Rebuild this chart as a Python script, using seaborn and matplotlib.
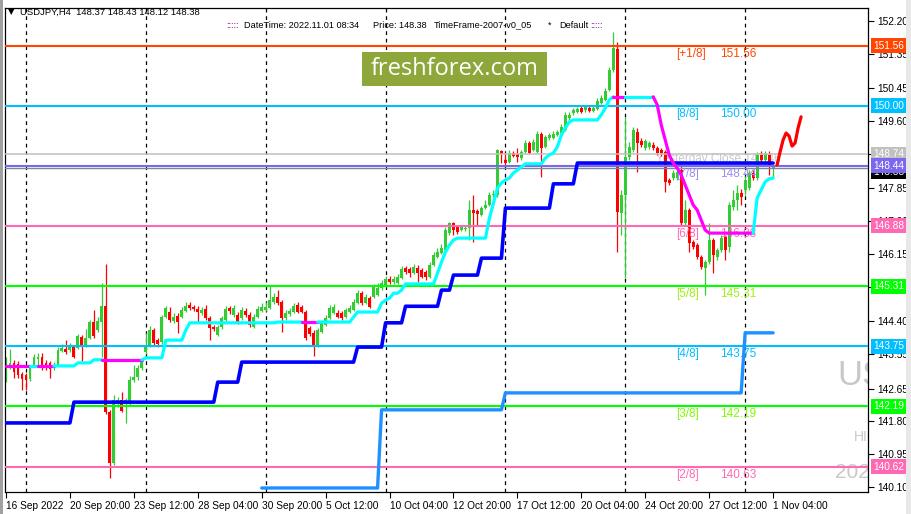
import numpy as np
import pandas as pd
import matplotlib
matplotlib.use("Agg")
import matplotlib.pyplot as plt
import matplotlib.transforms as mtransforms
from matplotlib.patches import Rectangle
import seaborn as sns

# ---------------- data ----------------
x_tick_bars = [0, 16, 32, 48, 64, 80, 96, 112, 128, 144, 160, 176, 192]
x_tick_labels = ["16 Sep 2022", "20 Sep 20:00", "23 Sep 12:00", "28 Sep 04:00", "30 Sep 20:00",
                 "5 Oct 12:00", "10 Oct 04:00", "12 Oct 20:00", "17 Oct 12:00", "20 Oct 04:00",
                 "24 Oct 20:00", "27 Oct 12:00", "1 Nov 04:00"]
y_ticks = [152.20, 151.35, 150.45, 149.60, 148.75, 147.85, 147.00, 146.15, 145.30,
           144.40, 143.55, 142.65, 141.80, 140.95, 140.10]
y_tick_labels = ["152.20", "151.35", "150.45", "149.60", "", "147.85", "147.00", "146.15", "",
                 "144.40", "143.55", "142.65", "141.80", "140.95", "140.10"]
week_separators = [5, 35, 65, 95, 125, 155, 185]

opens = [143.01, 143.21, 143.32, 143.29, 143.03, 143.01, 142.90, 143.27, 143.42, 143.47,
         143.32, 143.32, 143.19, 143.27, 143.63, 143.68, 143.66, 143.73, 143.71, 143.99,
         143.79, 143.97, 144.38, 144.17, 144.38, 144.80, 142.04, 140.72, 142.28, 142.36,
         142.28, 142.30, 142.88, 142.95, 143.19, 143.60, 143.79, 144.17, 143.91, 143.86,
         144.51, 144.64, 144.41, 144.54, 144.51, 144.67, 144.82, 144.77, 144.72, 144.62,
         144.72, 144.49, 144.25, 144.04, 144.25, 144.43, 144.74, 144.56, 144.56, 144.49,
         144.67, 144.56, 144.25, 144.51, 144.67, 144.69, 144.74, 144.90, 145.03, 144.90,
         144.49, 144.59, 144.64, 144.82, 144.77, 144.64, 144.23, 144.10, 143.79, 144.12,
         144.30, 144.49, 144.62, 144.62, 144.62, 144.51, 144.64, 144.69, 144.87, 145.13,
         144.87, 145.00, 145.03, 145.08, 145.26, 145.34, 145.50, 145.42, 145.39, 145.52,
         145.78, 145.76, 145.65, 145.78, 145.73, 145.68, 145.55, 145.86, 146.07, 146.17,
         146.25, 146.69, 146.95, 146.85, 146.77, 146.80, 146.82, 147.29, 147.26, 147.16,
         147.34, 147.42, 147.68, 147.68, 148.82, 148.59, 148.54, 148.77, 148.75, 148.64,
         148.80, 149.03, 148.85, 148.80, 149.26, 148.93, 149.16, 149.16, 149.24, 149.29,
         149.37, 149.68, 149.81, 149.84, 149.94, 149.89, 149.94, 149.86, 149.91, 150.07,
         150.15, 150.41, 150.93, 151.47, 147.21, 147.68, 148.67, 148.85, 149.32, 149.08,
         148.90, 148.93, 148.98, 148.90, 148.85, 148.80, 148.07, 148.12, 148.12, 148.33,
         146.95, 147.29, 146.46, 146.38, 146.07, 145.78, 145.94, 146.51, 146.07, 146.25,
         146.59, 146.33, 147.37, 147.55, 147.73, 147.81, 147.86, 148.25, 148.12, 148.72,
         148.59, 148.72, 148.37]
highs = [143.47, 143.68, 143.40, 143.37, 143.08, 143.06, 143.27, 143.55, 143.58, 143.58,
         143.40, 143.37, 143.34, 143.73, 143.81, 143.91, 143.84, 143.79, 144.07, 144.04,
         144.20, 144.43, 144.69, 144.51, 145.39, 145.89, 142.10, 142.49, 142.43, 142.56,
         142.41, 142.98, 143.27, 143.27, 143.40, 144.10, 144.28, 144.23, 143.97, 144.56,
         144.80, 144.77, 144.62, 144.62, 144.77, 144.90, 144.90, 144.82, 144.80, 144.77,
         144.82, 144.54, 144.30, 144.30, 144.54, 144.80, 144.80, 144.82, 144.64, 144.77,
         144.74, 144.64, 144.59, 144.80, 144.87, 144.90, 145.32, 145.13, 145.21, 144.95,
         144.69, 144.74, 144.87, 144.90, 144.82, 144.69, 144.28, 144.17, 144.23, 144.43,
         144.56, 144.82, 144.85, 144.69, 144.67, 144.74, 144.82, 144.98, 145.21, 145.19,
         145.11, 145.06, 145.37, 145.39, 145.47, 145.58, 145.58, 145.58, 145.63, 145.84,
         145.84, 145.81, 145.89, 145.86, 145.78, 145.73, 145.94, 146.20, 146.30, 146.41,
         146.85, 146.98, 146.98, 146.90, 146.90, 146.90, 147.55, 147.68, 147.32, 147.39,
         147.55, 147.76, 147.81, 148.87, 148.85, 148.80, 148.85, 148.82, 148.90, 148.85,
         149.11, 149.08, 149.13, 149.34, 149.32, 149.24, 149.29, 149.34, 149.37, 149.52,
         149.84, 149.84, 149.94, 149.97, 149.99, 150.02, 149.99, 149.99, 150.20, 150.28,
         150.46, 151.00, 151.91, 151.65, 147.81, 149.71, 149.06, 149.45, 149.42, 149.16,
         149.13, 149.08, 149.06, 148.95, 148.90, 148.85, 148.12, 148.33, 148.33, 148.49,
         147.55, 147.34, 146.51, 146.43, 146.12, 145.99, 146.95, 146.56, 146.30, 146.64,
         146.64, 147.50, 147.81, 147.94, 147.84, 148.17, 148.33, 148.33, 148.80, 148.82,
         148.82, 148.82, 148.43]
lows = [142.82, 143.16, 142.93, 142.93, 142.62, 142.62, 142.85, 143.21, 143.21, 143.14,
        143.14, 142.93, 143.14, 143.24, 143.60, 143.55, 143.60, 143.45, 143.68, 143.37,
        143.73, 143.94, 143.97, 144.12, 143.47, 141.99, 140.33, 140.67, 142.17, 142.04,
        141.76, 142.23, 142.82, 142.88, 143.14, 143.55, 143.73, 143.79, 143.73, 143.81,
        144.49, 144.38, 144.36, 144.10, 144.49, 144.64, 144.69, 144.67, 144.38, 144.56,
        144.43, 143.91, 144.15, 144.02, 144.20, 144.41, 144.59, 144.51, 144.33, 144.43,
        144.51, 144.25, 144.23, 144.49, 144.64, 144.67, 144.72, 144.85, 144.82, 144.12,
        144.43, 144.54, 144.62, 144.62, 144.62, 143.91, 144.02, 143.50, 143.73, 144.10,
        144.28, 144.46, 144.59, 144.49, 144.43, 144.49, 144.62, 144.67, 144.85, 144.82,
        144.85, 144.74, 145.00, 145.06, 145.21, 145.29, 145.37, 145.37, 145.37, 145.50,
        145.63, 145.55, 145.63, 145.42, 145.52, 145.47, 145.52, 145.84, 146.04, 146.15,
        146.23, 146.64, 146.64, 146.67, 146.74, 146.74, 146.51, 146.46, 146.90, 147.13,
        147.32, 147.39, 147.63, 147.63, 148.51, 148.43, 148.51, 148.67, 148.54, 148.59,
        148.77, 148.75, 148.82, 148.77, 148.15, 148.90, 149.11, 149.13, 149.21, 149.26,
        149.34, 149.63, 149.76, 149.81, 149.81, 149.84, 149.84, 149.84, 149.89, 150.04,
        150.12, 150.38, 150.87, 146.20, 146.64, 145.52, 148.59, 148.80, 148.28, 148.93,
        148.85, 148.87, 148.85, 148.72, 148.69, 147.76, 147.94, 148.07, 148.07, 146.90,
        146.90, 146.20, 146.28, 146.02, 145.76, 145.08, 145.89, 145.65, 145.99, 146.20,
        145.99, 146.20, 147.29, 147.29, 147.42, 147.68, 147.81, 148.07, 148.07, 148.54,
        148.54, 148.20, 148.12]
closes = [143.27, 143.32, 143.08, 143.01, 142.90, 142.88, 143.21, 143.47, 143.47, 143.19,
          143.19, 143.16, 143.27, 143.66, 143.71, 143.60, 143.79, 143.47, 144.02, 143.73,
          143.97, 144.38, 144.02, 144.41, 144.80, 142.04, 140.72, 142.36, 142.36, 142.07,
          142.36, 142.88, 142.95, 143.19, 143.34, 143.79, 144.17, 143.84, 143.81, 144.51,
          144.74, 144.43, 144.51, 144.38, 144.69, 144.80, 144.74, 144.72, 144.64, 144.69,
          144.49, 144.23, 144.20, 144.25, 144.49, 144.72, 144.67, 144.74, 144.38, 144.69,
          144.56, 144.30, 144.51, 144.72, 144.77, 144.77, 144.95, 145.03, 144.87, 144.49,
          144.62, 144.67, 144.80, 144.64, 144.64, 143.97, 144.07, 143.79, 144.17, 144.36,
          144.49, 144.74, 144.77, 144.51, 144.49, 144.69, 144.74, 144.90, 145.13, 144.87,
          145.03, 144.77, 145.29, 145.26, 145.39, 145.50, 145.42, 145.50, 145.55, 145.76,
          145.68, 145.65, 145.81, 145.65, 145.55, 145.55, 145.86, 146.12, 146.20, 146.30,
          146.77, 146.95, 146.77, 146.72, 146.85, 146.82, 147.29, 147.21, 147.19, 147.34,
          147.42, 147.68, 147.71, 148.85, 148.74, 148.51, 148.77, 148.69, 148.67, 148.80,
          149.03, 148.77, 149.06, 149.26, 148.90, 149.19, 149.24, 149.26, 149.32, 149.45,
          149.76, 149.76, 149.89, 149.91, 149.84, 149.97, 149.86, 149.94, 150.12, 150.20,
          150.38, 150.93, 151.50, 147.24, 147.68, 148.67, 148.93, 149.37, 149.03, 148.98,
          149.08, 149.03, 148.90, 148.77, 148.77, 148.02, 147.99, 148.25, 148.28, 146.95,
          147.29, 146.43, 146.33, 146.07, 145.81, 145.94, 146.51, 146.12, 146.25, 146.56,
          146.25, 147.42, 147.55, 147.73, 147.63, 148.07, 148.25, 148.12, 148.72, 148.59,
          148.77, 148.41, 148.38]

# trailing line (cyan when rising, magenta when falling)
trail = [143.24, 143.24, 143.24, 143.24, 143.24, 143.24, 143.24, 143.24, 143.24, 143.24,
         143.24, 143.24, 143.24, 143.24, 143.24, 143.24, 143.24, 143.24, 143.32, 143.32,
         143.32, 143.32, 143.40, 143.40, 143.40, 143.40, 143.40, 143.40, 143.40, 143.40,
         143.40, 143.40, 143.40, 143.40, 143.40, 143.45, 143.45, 143.45, 143.45, 143.45,
         143.91, 143.91, 143.91, 143.91, 143.91, 144.17, 144.36, 144.36, 144.36, 144.36,
         144.36, 144.36, 144.36, 144.36, 144.36, 144.36, 144.36, 144.36, 144.36, 144.36,
         144.36, 144.36, 144.36, 144.36, 144.36, 144.36, 144.36, 144.36, 144.38, 144.38,
         144.38, 144.38, 144.38, 144.38, 144.38, 144.38, 144.38, 144.38, 144.38, 144.38,
         144.38, 144.38, 144.38, 144.38, 144.38, 144.38, 144.38, 144.51, 144.64, 144.64,
         144.64, 144.64, 144.64, 144.64, 144.87, 144.95, 145.00, 145.13, 145.13, 145.21,
         145.37, 145.37, 145.37, 145.37, 145.37, 145.37, 145.37, 145.37, 145.65, 145.94,
         146.20, 146.38, 146.51, 146.56, 146.56, 146.56, 146.56, 146.56, 146.56, 146.56,
         146.56, 147.08, 147.47, 147.86, 147.99, 148.07, 148.12, 148.25, 148.33, 148.41,
         148.49, 148.49, 148.49, 148.49, 148.49, 148.64, 148.72, 148.77, 148.93, 149.24,
         149.42, 149.58, 149.63, 149.63, 149.63, 149.63, 149.63, 149.63, 149.63, 149.76,
         149.94, 150.15, 150.23, 150.23, 150.23, 150.23, 150.23, 150.23, 150.23, 150.23,
         150.23, 150.23, 150.23, 150.02, 149.50, 149.11, 148.72, 148.51, 148.38, 148.20,
         147.94, 147.68, 147.42, 147.29, 147.03, 146.77, 146.69, 146.69, 146.69, 146.69,
         146.69, 146.69, 146.69, 146.69, 146.69, 146.69, 146.69, 146.69, 147.60, 147.81,
         148.02, 148.10, 148.12]
trail_down_runs = [(0, 6), (9, 12), (25, 34), (75, 78), (153, 155), (163, 187)]

# stepped lines: first bar of each step and its price
navy_step_start = [0, 17, 53, 59, 88, 95, 100, 109, 112, 119, 125, 137, 143]
navy_step_price = [141.76, 142.30, 142.82, 143.34, 143.73, 144.36, 144.79, 145.21, 145.60,
                   146.04, 147.34, 147.97, 148.51]
sky_step_start = [64, 94, 125, 185]
sky_step_price = [140.07, 142.10, 142.54, 144.10]

# Murrey math levels
mm_levels = [151.56, 150.00, 148.44, 146.88, 145.31, 143.75, 142.19, 140.62]
mm_names = ["[+1/8]", "[8/8]", "[7/8]", "[6/8]", "[5/8]", "[4/8]", "[3/8]", "[2/8]"]
mm_values = ["151.56", "150.00", "148.44", "146.88", "145.31", "143.75", "142.19", "140.63"]
mm_colors = ["#FF4500", "#00BFFF", "#7B68EE", "#FF69B4", "#00FF00", "#00BFFF", "#00FF00", "#FF69B4"]
mm_text_colors = ["#FF4500", "#00BFFF", "#9C8CEF", "#FF69B4", "#9EF01A", "#00BFFF", "#7CFC00", "#FF69B4"]
yesterday_level = 148.74
bid_price = 148.38

forecast_bar = [193.0, 193.75, 194.5, 195.25, 196.0, 196.75, 197.5, 198.25, 199.0]
forecast_price = [148.46, 148.80, 149.11, 149.29, 149.21, 148.95, 149.03, 149.42, 149.71]

# ---------------- figure ----------------
sns.set_theme(style="white")
plt.rcParams['font.family'] = ['Liberation Sans', 'DejaVu Sans']

W, H = 911, 514
fig = plt.figure(figsize=(W / 100, H / 100), dpi=100)
fig.patch.set_facecolor("white")
ax = fig.add_axes([5 / W, 22 / H, 863 / W, 484 / H])
ax.set_facecolor("white")

n = len(closes)
bars = np.arange(n)
df = pd.DataFrame({"bar": bars, "open": opens, "high": highs, "low": lows, "close": closes})
up = df["close"] >= df["open"]
cols = np.where(up, "#32CD32", "#FF0000")

# candles
ax.vlines(df["bar"], df["low"], df["high"], colors=cols, lw=0.9, zorder=2)
body_bottom = np.minimum(df["open"], df["close"])
body_h = np.maximum((df["close"] - df["open"]).abs(), 0.025)
ax.bar(df["bar"], body_h, bottom=body_bottom, width=0.72, color=cols, linewidth=0, zorder=2)

# week separators
for b in week_separators:
    ax.axvline(b, color="black", lw=0.9, ls=(0, (3, 3)), zorder=1)

# levels
for lv, c in zip(mm_levels, mm_colors):
    ax.axhline(lv, color=c, lw=1.5, zorder=3)
ax.axhline(yesterday_level, color="#C0C0C0", lw=1.1, zorder=3)
ax.axhline(bid_price, color="#778899", lw=1.0, zorder=3)

ax.text(162.8, 148.62, "Yesterday Close 147.46", color="#C8C8C8", fontsize=8.5,
        va="center", ha="left", zorder=1.5)

ppx = 1 / 38.5  # price per pixel
for lv, nm, vt, tc in zip(mm_levels, mm_names, mm_values, mm_text_colors):
    ax.text(167.7, lv - 8 * ppx, nm, color=tc, fontsize=8.5, va="center", ha="left", zorder=3)
    ax.text(178.6, lv - 8 * ppx, vt, color=tc, fontsize=8.5, va="center", ha="left", zorder=3)

# stepped lines
def expand(starts, prices, last):
    xs, ys = [], []
    for k, (s, p) in enumerate(zip(starts, prices)):
        e = starts[k + 1] - 1 if k + 1 < len(starts) else last
        for b in range(s, e + 1):
            xs.append(b)
            ys.append(p)
    return np.array(xs), np.array(ys)

sx, sy = expand(sky_step_start, sky_step_price, n - 1)
sns.lineplot(x=sx, y=sy, ax=ax, color="#1E90FF", lw=2.4, zorder=4, estimator=None)
nx, ny = expand(navy_step_start, navy_step_price, n - 1)
sns.lineplot(x=nx, y=ny, ax=ax, color="#0000FF", lw=2.6, zorder=4, estimator=None)

# trailing line coloured by direction
flag = np.ones(n, dtype=int)
for a, b in trail_down_runs:
    flag[a:b + 1] = 0
trail_arr = np.array(trail)
seg_col = flag[1:]
i = 0
while i < n - 1:
    j = i
    while j + 1 < n - 1 and seg_col[j + 1] == seg_col[i]:
        j += 1
    c = "#00FFFF" if seg_col[i] == 1 else "#FF00FF"
    sns.lineplot(x=bars[i:j + 2], y=trail_arr[i:j + 2], ax=ax, color=c, lw=2.3,
                 zorder=4.5, estimator=None, sort=False)
    i = j + 1

# hand-drawn forecast
ax.plot(forecast_bar, forecast_price, color="#FF0000", lw=2.3, zorder=5,
        solid_capstyle="round", solid_joinstyle="round")

# watermark (clipped at right)
ax.text(0.965, 0.242, "USDJPY,H4", transform=ax.transAxes, fontsize=25, color="#C8C8C8",
        va="center", ha="left", clip_on=True, zorder=1)
ax.text(0.984, 0.114, "HIGH", transform=ax.transAxes, fontsize=10, color="#C8C8C8",
        va="center", ha="left", clip_on=True, zorder=1)
ax.text(0.962, 0.040, "2022.11.01", transform=ax.transAxes, fontsize=15, color="#C8C8C8",
        va="center", ha="left", clip_on=True, zorder=1)

# axes
ax.set_xlim(-0.25, 215.75)
ax.set_ylim(139.966, 152.537)
ax.yaxis.tick_right()
ax.set_yticks(y_ticks)
ax.set_yticklabels(y_tick_labels)
ax.set_xticks(x_tick_bars)
ax.set_xticklabels(x_tick_labels, ha="left")
ax.tick_params(axis="both", which="major", direction="out", length=4, width=0.8,
               colors="black", labelsize=7.3, pad=2)
ax.tick_params(axis="y", right=True, left=False, pad=2.5)
ax.tick_params(axis="x", bottom=True, pad=2.5)
for s in ax.spines.values():
    s.set_color("black")
    s.set_linewidth(0.9)
ax.set_xlabel("")
ax.set_ylabel("")
ax.grid(False)

# right price tags
tr = mtransforms.blended_transform_factory(ax.transAxes, ax.transData)
tags = [(bid_price - 0.09, "148.38", "#000000")]
tags += [(yesterday_level, "148.74", "#C0C0C0")]
tags += [(lv, f"{lv:.2f}", c) for lv, c in zip(mm_levels, mm_colors)]
for y, t, c in tags:
    ax.text(1.0 + 5 / 863, y, t, transform=tr, fontsize=7.3, color="white", ha="left",
            va="center", clip_on=False, zorder=10,
            bbox=dict(boxstyle="square,pad=0.24", fc=c, ec="none"))

# header
fig.text(8 / W, 1 - 12 / H, "\u25BC", fontsize=6, color="black", va="center", ha="left",
         family="DejaVu Sans")
fig.text(20 / W, 1 - 12 / H, "USDJPY,H4  148.37 148.43 148.12 148.38", fontsize=6.8,
         color="black", va="center", ha="left")
hy = 1 - 25 / H
hs = 6.6
fig.text(226 / W, hy, ":::::", fontsize=hs, color="#800080", va="center", ha="left")
fig.text(244 / W, hy, "DateTime: 2022.11.01 08:34", fontsize=hs, color="black", va="center", ha="left")
fig.text(373 / W, hy, "Price: 148.38", fontsize=hs, color="black", va="center", ha="left")
fig.text(434 / W, hy, "TimeFrame-2007-v0_05", fontsize=hs, color="black", va="center", ha="left")
fig.text(548 / W, hy, "*", fontsize=hs, color="black", va="center", ha="left")
fig.text(559 / W, hy, "Default", fontsize=hs, color="black", va="center", ha="left")
fig.text(590 / W, hy, ":::::", fontsize=hs, color="#800080", va="center", ha="left")

# logo
fig.patches.append(Rectangle((362 / W, 1 - 86 / H), 185 / W, 34 / H, transform=fig.transFigure,
                             facecolor="#8DA73B", edgecolor="none", zorder=6))
fig.text(454.5 / W, 1 - 69 / H, "freshforex.com", fontsize=17, color="white", ha="center",
         va="center", family=["Open Sans", "DejaVu Sans"], zorder=7)

# window edges
fig.patches.append(Rectangle((0, 0), 3 / W, 1, transform=fig.transFigure,
                             facecolor="#A0A0A0", edgecolor="none", zorder=6))
fig.patches.append(Rectangle((906 / W, 0), 5 / W, 1, transform=fig.transFigure,
                             facecolor="#E8E8E8", edgecolor="none", zorder=11))

fig.savefig("out.png", dpi=100, facecolor="white")
